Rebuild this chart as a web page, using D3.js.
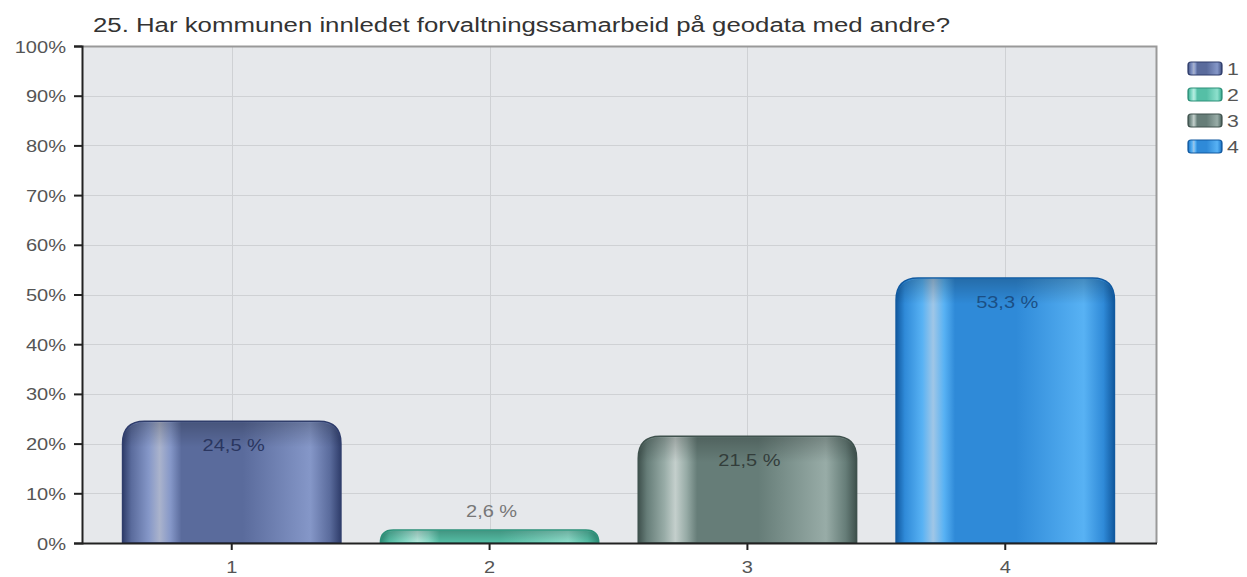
<!DOCTYPE html>
<html>
<head>
<meta charset="utf-8">
<script src="https://cdn.jsdelivr.net/npm/d3@7"></script>
<style>
html,body{margin:0;padding:0;background:#fff;}
svg{display:block;font-family:"Liberation Sans",Arial,sans-serif;}
</style>
</head>
<body>
<svg id="c" width="1247" height="577"></svg>
<script>
const title = "25. Har kommunen innledet forvaltningssamarbeid på geodata med andre?";
const categories = ["1", "2", "3", "4"];
const values = [24.5, 2.6, 21.5, 53.3];
const valueLabels = ["24,5 %", "2,6 %", "21,5 %", "53,3 %"];
const yTicks = [0, 10, 20, 30, 40, 50, 60, 70, 80, 90, 100];
const palette = [
  {dark:"#2f3d6b", mid:"#5a6b9c", light:"#8597c8", hi:"#aab3cc", label:"#2a3660"},
  {dark:"#2d8f78", mid:"#55bfa6", light:"#8ee0cd", hi:"#b8ece0", label:"#777"},
  {dark:"#3f514d", mid:"#667d78", light:"#98aca7", hi:"#c4cfcc", label:"#333d3b"},
  {dark:"#11599f", mid:"#2f8ad8", light:"#58b2f4", hi:"#a0c6e6", label:"#1b4f85"}
];

const SX = 1.25; // horizontal text stretch seen in the reference
const svg = d3.select("#c");
const L = 82, R = 1157, T = 46, B = 543;

const y = d3.scaleLinear().domain([0, 100]).range([B, T]);
const x = d3.scaleBand().domain(categories).range([104.5, 1132.5]).paddingInner(0.153).paddingOuter(0.07);

function sText(g, cx, cy, str, size, fill, anchor) {
  return g.append("text")
    .attr("transform", `translate(${cx},${cy}) scale(${SX},1)`)
    .attr("text-anchor", anchor || "middle")
    .attr("font-size", size).attr("fill", fill).text(str);
}

// defs
const defs = svg.append("defs");
palette.forEach((p, i) => {
  const g = defs.append("linearGradient").attr("id", "g" + i).attr("x1", 0).attr("x2", 1).attr("y1", 0).attr("y2", 0);
  [[0, p.dark],[0.04, p.mid],[0.12, p.light],[0.17, p.hi],[0.22, p.light],[0.27, p.mid],[0.55, p.mid],[0.86, p.light],[0.95, p.mid],[1, p.dark]]
    .forEach(s => g.append("stop").attr("offset", s[0]).attr("stop-color", s[1]));
});
const tg = defs.append("linearGradient").attr("id", "topShade").attr("x1", 0).attr("x2", 0).attr("y1", 0).attr("y2", 1);
tg.append("stop").attr("offset", 0).attr("stop-color", "#000").attr("stop-opacity", 0.35);
tg.append("stop").attr("offset", 1).attr("stop-color", "#000").attr("stop-opacity", 0);

// plot background
svg.append("rect").attr("x", L).attr("y", T).attr("width", R - L).attr("height", B - T).attr("fill", "#e6e8eb");

// grid
svg.append("g").selectAll("line").data(yTicks.filter(d => d > 0)).join("line")
  .attr("x1", L).attr("x2", R).attr("y1", d => Math.round(y(d)) + 0.5).attr("y2", d => Math.round(y(d)) + 0.5)
  .attr("stroke", "#cfd1d4").attr("stroke-width", 1);
svg.append("g").selectAll("line").data(categories).join("line")
  .attr("y1", T).attr("y2", B).attr("x1", d => Math.round(x(d) + x.bandwidth() / 2) + 0.5).attr("x2", d => Math.round(x(d) + x.bandwidth() / 2) + 0.5)
  .attr("stroke", "#cfd1d4").attr("stroke-width", 1);

// border right/top
svg.append("path").attr("d", `M${L},${T+0.5}H${R-0.5}V${B}`).attr("fill", "none").attr("stroke", "#999").attr("stroke-width", 2);

// bars
function barPath(x0, w, top, bottom) {
  const h = bottom - top;
  const r = Math.min(22, h);
  return `M${x0},${bottom}V${top + r}Q${x0},${top} ${x0 + r},${top}H${x0 + w - r}Q${x0 + w},${top} ${x0 + w},${top + r}V${bottom}Z`;
}
const bars = svg.append("g");
categories.forEach((c, i) => {
  const x0 = x(c), w = x.bandwidth(), top = y(values[i]);
  bars.append("path").attr("d", barPath(x0, w, top, B)).attr("fill", `url(#g${i})`)
    .attr("stroke", palette[i].dark).attr("stroke-width", 1.5);
  const sh = Math.min(26, B - top);
  bars.append("path").attr("d", barPath(x0 + 1, w - 2, top + 1, top + sh)).attr("fill", "url(#topShade)").attr("opacity", 0.6);
});

// value labels
const vl = svg.append("g");
categories.forEach((c, i) => {
  const cx = x(c) + x.bandwidth() / 2 + 2;
  const cy = values[i] < 8 ? y(values[i]) - 13 : y(values[i]) + 30;
  sText(vl, cx, cy, valueLabels[i], 16, palette[i].label);
});

// y axis
const ya = svg.append("g").attr("transform", `translate(${L},0)`)
  .call(d3.axisLeft(y).tickValues(yTicks).tickFormat(d => d + "%").tickSize(8).tickPadding(8));
ya.select(".domain").attr("stroke", "#222").attr("stroke-width", 2);
ya.selectAll(".tick line").attr("stroke", "#222").attr("stroke-width", 2);
ya.selectAll(".tick text").attr("font-size", 17).attr("fill", "#555")
  .attr("font-family", "Liberation Sans, Arial, sans-serif")
  .attr("x", null).attr("dy", null)
  .attr("transform", `translate(-16,6) scale(${SX - 0.07},1)`);

// x axis
const xa = svg.append("g").attr("transform", `translate(0,${B})`)
  .call(d3.axisBottom(x).tickSize(7).tickPadding(12).tickSizeOuter(0));
xa.select(".domain").attr("stroke", "none");
svg.append("line").attr("x1", L).attr("x2", R).attr("y1", B + 0.5).attr("y2", B + 0.5).attr("stroke", "#222").attr("stroke-width", 2);
xa.selectAll(".tick line").attr("stroke", "#222").attr("stroke-width", 2);
xa.selectAll(".tick text").attr("font-size", 16).attr("fill", "#555")
  .attr("font-family", "Liberation Sans, Arial, sans-serif")
  .attr("y", null).attr("dy", null)
  .attr("transform", `translate(0,30) scale(${SX},1)`);

// title
svg.append("text").attr("x", 93).attr("y", 32).attr("font-size", 20).attr("fill", "#333")
  .attr("textLength", 857).attr("lengthAdjust", "spacingAndGlyphs").text(title);

// legend
const lg = svg.append("g");
categories.forEach((c, i) => {
  const yy = 62 + i * 26;
  lg.append("rect").attr("x", 1188).attr("y", yy).attr("width", 34).attr("height", 13).attr("rx", 3)
    .attr("fill", `url(#g${i})`).attr("stroke", palette[i].dark).attr("stroke-width", 1.2);
  sText(lg, 1227, yy + 13, c, 17, "#555", "start");
});
</script>
</body>
</html>
